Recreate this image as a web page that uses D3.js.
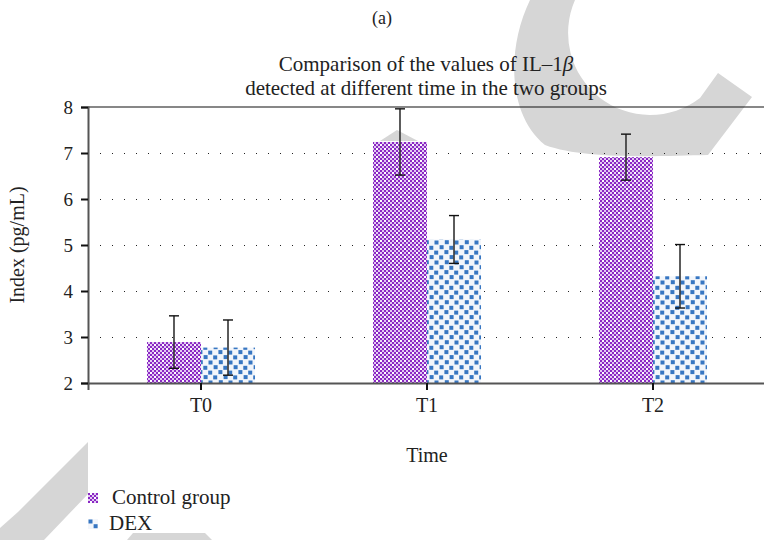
<!DOCTYPE html>
<html>
<head>
<meta charset="utf-8">
<script src="https://cdn.jsdelivr.net/npm/d3@7"></script>
<style>
  body { margin: 0; background: #fff; }
  svg { display: block; }
  text { font-family: 'Liberation Serif', 'DejaVu Serif', serif; }
</style>
</head>
<body>
<svg id="chart"></svg>
<script>
const timePoints = ['T0', 'T1', 'T2'];
const groups = ['Control group', 'DEX'];
const controlMeans = [2.89, 7.24, 6.91];
const controlErrors = [0.57, 0.72, 0.50];
const dexMeans = [2.77, 5.12, 4.32];
const dexErrors = [0.60, 0.52, 0.69];
const yTicks = [2, 3, 4, 5, 6, 7, 8];

const width = 764;
const height = 540;
const margin = { top: 107, right: -2, bottom: 157, left: 88 };
const serif = 'Liberation Serif';

// light grey arrows printed behind the figure
const watermark = [
  'M530,0 C506,50 508,115 545,145 C585,160 660,156 708,155 L752,97 L718,73 L700,98 A82,82 0 0 1 575,0 Z',
  'M397,130 L418,141 L380,141 Z',
  'M88,442 L88,494 L44,540 L0,540 L0,528 L18,512 Z',
  'M133,533 L205,533 L212,540 L127,540 Z'
];

const svg = d3.select('#chart')
  .attr('width', width)
  .attr('height', height);

const defs = svg.append('defs');

const ctrl = defs.append('pattern')
  .attr('id', 'ctrl')
  .attr('patternUnits', 'userSpaceOnUse')
  .attr('width', 8)
  .attr('height', 8);
ctrl.append('rect').attr('width', 8).attr('height', 8).attr('fill', '#e2c9f2');
for (let i = 0; i < 4; i++) {
  for (let j = 0; j < 4; j++) {
    if ((i + j) % 2 === 0) {
      ctrl.append('rect').attr('x', i * 2).attr('y', j * 2)
        .attr('width', 2).attr('height', 2).attr('fill', '#8a28c4');
    }
  }
}
ctrl.append('rect').attr('x', 2).attr('y', 0).attr('width', 2).attr('height', 2).attr('fill', '#fff');
ctrl.append('rect').attr('x', 6).attr('y', 4).attr('width', 2).attr('height', 2).attr('fill', '#fff');

// scattered blue squares
const dexSpots = [[0.5, 0.5], [10.8, 0.2], [5.6, 5.2], [15.3, 5.8], [0.2, 10.6], [10.4, 10.1], [5.2, 15.4], [15.6, 15.1]];
const dex = defs.append('pattern')
  .attr('id', 'dex')
  .attr('patternUnits', 'userSpaceOnUse')
  .attr('width', 20)
  .attr('height', 20);
dex.append('rect').attr('width', 20).attr('height', 20).attr('fill', '#f3f6fb');
dex.selectAll('rect.spot')
  .data(dexSpots)
  .enter()
  .append('rect')
  .attr('class', 'spot')
  .attr('x', d => d[0])
  .attr('y', d => d[1])
  .attr('width', 4)
  .attr('height', 4)
  .attr('fill', '#3776c2');

svg.append('g')
  .selectAll('path')
  .data(watermark)
  .enter()
  .append('path')
  .attr('d', d => d)
  .attr('fill', '#d6d6d6');

const x = d3.scaleBand()
  .domain(timePoints)
  .range([margin.left, width - margin.right]);

const xSub = d3.scaleBand()
  .domain(groups)
  .range([x.bandwidth() * 0.261, x.bandwidth() * 0.739]);

const y = d3.scaleLinear()
  .domain([2, 8])
  .range([height - margin.bottom, margin.top]);

// dotted grid
svg.append('g')
  .selectAll('line')
  .data(yTicks.slice(1, -1))
  .enter()
  .append('line')
  .attr('x1', margin.left)
  .attr('x2', width)
  .attr('y1', d => y(d) + 0.5)
  .attr('y2', d => y(d) + 0.5)
  .attr('stroke', '#222')
  .attr('stroke-width', 1)
  .attr('stroke-dasharray', '1,11');

const rows = timePoints.map((t, i) => ({
  time: t,
  values: [
    { group: groups[0], mean: controlMeans[i], err: controlErrors[i], fill: 'url(#ctrl)' },
    { group: groups[1], mean: dexMeans[i], err: dexErrors[i], fill: 'url(#dex)' }
  ]
}));

const groupG = svg.append('g')
  .selectAll('g')
  .data(rows)
  .enter()
  .append('g')
  .attr('transform', d => `translate(${x(d.time)},0)`);

groupG.selectAll('rect')
  .data(d => d.values)
  .enter()
  .append('rect')
  .attr('x', d => xSub(d.group))
  .attr('y', d => y(d.mean))
  .attr('width', xSub.bandwidth())
  .attr('height', d => y(2) - y(d.mean))
  .attr('fill', d => d.fill);

const errG = groupG.selectAll('g.err')
  .data(d => d.values)
  .enter()
  .append('g')
  .attr('class', 'err')
  .attr('transform', d => `translate(${xSub(d.group) + xSub.bandwidth() / 2},0)`);

errG.append('line')
  .attr('y1', d => y(d.mean + d.err))
  .attr('y2', d => y(d.mean - d.err))
  .attr('stroke', '#333')
  .attr('stroke-width', 1.6);

errG.selectAll('line.cap')
  .data(d => [d.mean + d.err, d.mean - d.err])
  .enter()
  .append('line')
  .attr('class', 'cap')
  .attr('x1', -5)
  .attr('x2', 5)
  .attr('y1', d => y(d))
  .attr('y2', d => y(d))
  .attr('stroke', '#111')
  .attr('stroke-width', 1.4);

// top frame line
svg.append('line')
  .attr('x1', margin.left)
  .attr('x2', width)
  .attr('y1', y(8))
  .attr('y2', y(8))
  .attr('stroke', '#111')
  .attr('stroke-width', 1.2);

// axes
const xAxis = svg.append('g')
  .attr('transform', `translate(0,${y(2)})`)
  .call(d3.axisBottom(x).tickSize(7).tickPadding(8));
xAxis.attr('font-family', serif);
xAxis.select('.domain').attr('stroke', '#555').attr('stroke-width', 2);
xAxis.selectAll('.tick line').attr('stroke', '#111').attr('stroke-width', 2);
xAxis.selectAll('.tick text')
  .attr('fill', '#222')
  .attr('font-family', serif)
  .attr('font-size', 20);

const yAxis = svg.append('g')
  .attr('transform', `translate(${margin.left},0)`)
  .call(d3.axisLeft(y).tickValues(yTicks).tickFormat(d3.format('d')).tickSize(7).tickPadding(8));
yAxis.attr('font-family', serif);
yAxis.select('.domain').attr('stroke', '#555').attr('stroke-width', 2);
yAxis.selectAll('.tick line').attr('stroke', '#111').attr('stroke-width', 2);
yAxis.selectAll('.tick text')
  .attr('fill', '#222')
  .attr('font-family', serif)
  .attr('font-size', 19);

// texts
const plain = sel => sel
  .attr('fill', '#222')
  .attr('font-family', serif);

svg.append('text')
  .call(plain)
  .attr('x', 382)
  .attr('y', 24)
  .attr('text-anchor', 'middle')
  .attr('font-size', 18)
  .text('(a)');

const title = svg.append('text')
  .call(plain)
  .attr('text-anchor', 'middle')
  .attr('font-size', 21);
const line1 = title.append('tspan').attr('x', 426).attr('y', 71);
line1.append('tspan').text('Comparison of the values of IL\u20131');
line1.append('tspan').attr('font-style', 'italic').text('\u03B2');
title.append('tspan').attr('x', 426).attr('y', 95).text('detected at different time in the two groups');

svg.append('text')
  .call(plain)
  .attr('x', 427)
  .attr('y', 462)
  .attr('text-anchor', 'middle')
  .attr('font-size', 20)
  .text('Time');

svg.append('text')
  .call(plain)
  .attr('transform', 'translate(24,245) rotate(-90)')
  .attr('text-anchor', 'middle')
  .attr('font-size', 20)
  .text('Index (pg/mL)');

const legend = svg.append('g')
  .selectAll('g')
  .data(groups)
  .enter()
  .append('g')
  .attr('transform', (d, i) => `translate(88,${493 + i * 26})`);

legend.append('rect')
  .attr('width', 10)
  .attr('height', 10)
  .attr('fill', (d, i) => i === 0 ? 'url(#ctrl)' : 'url(#dex)');

legend.append('text')
  .call(plain)
  .attr('x', (d, i) => i === 0 ? 24 : 21)
  .attr('y', 11)
  .attr('font-size', 21)
  .text(d => d);
</script>
</body>
</html>
